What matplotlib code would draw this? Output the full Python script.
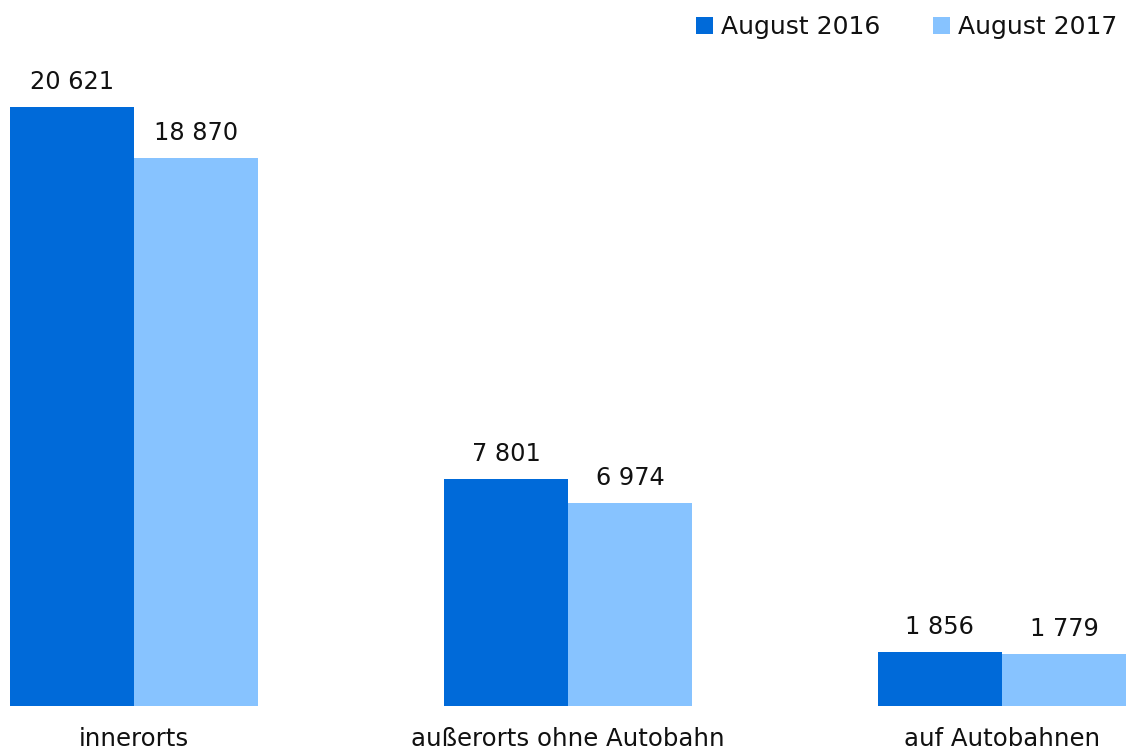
import matplotlib
matplotlib.use("Agg")
import matplotlib.pyplot as plt
import numpy as np
from matplotlib.patches import Patch

categories = ["innerorts", "außerorts ohne Autobahn", "auf Autobahnen"]
series_names = ["August 2016", "August 2017"]
values_2016 = [20621, 7801, 1856]
values_2017 = [18870, 6974, 1779]
colors = ["#006AD9", "#87C3FF"]

plt.rcParams['font.family'] = ['DejaVu Sans']

W, H = 1132, 754
fig = plt.figure(figsize=(W/100, H/100), dpi=100)
ax = fig.add_axes([10/W, (H-706)/H, 1116/W, 706/H])

bw = 0.286
x = np.arange(len(categories))

def fmt(v):
    return f"{v:,}".replace(",", " ")

for i, (vals, c) in enumerate(zip([values_2016, values_2017], colors)):
    pos = x + (i - 0.5) * bw
    bars = ax.bar(pos, vals, width=bw, color=c, align='center')
    for b, v in zip(bars, vals):
        ax.annotate(fmt(v), (b.get_x() + b.get_width()/2, v), xytext=(0, 13),
                    textcoords='offset points', ha='center', va='baseline',
                    fontsize=17.3, color='#111111')

ax.set_xlim(-bw, 2 + bw)
ax.set_ylim(0, 706 / (599/20621))
ax.set_xticks(x)
ax.set_xticklabels(categories, fontsize=17.6, color='#111111')
ax.tick_params(axis='x', length=0, pad=15)
ax.set_yticks([])
for s in ax.spines.values():
    s.set_visible(False)

handles = [Patch(facecolor=c, edgecolor='none') for c in colors]
fig.legend(handles, series_names, loc='upper right', bbox_to_anchor=(1.0, 1.0),
           ncol=2, frameon=False, fontsize=18, handlelength=0.68, handleheight=0.68,
           handletextpad=0.32, columnspacing=2.1, borderaxespad=0.2, labelcolor='#111111')

fig.savefig("out.png", dpi=100)
